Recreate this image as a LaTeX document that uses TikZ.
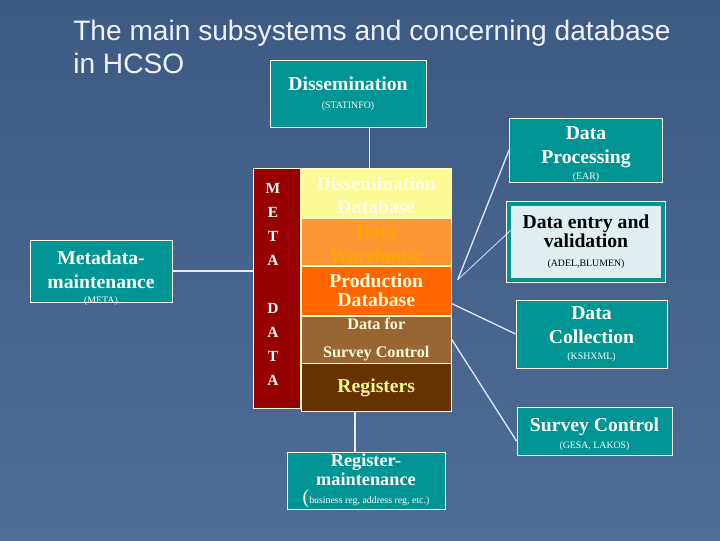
\documentclass[tikz,border=0pt]{standalone}
\usepackage{fontspec}
\setmainfont{Liberation Serif}
\newfontfamily\titlefont{Liberation Sans}
\usetikzlibrary{positioning, calc}
\definecolor{SlateTop}{RGB}{60, 90, 132}
\definecolor{SlateBottom}{RGB}{78, 108, 150}
\definecolor{SysTeal}{RGB}{0, 148, 148}
\definecolor{PaleCyan}{RGB}{224, 238, 242}
\definecolor{MetaRed}{RGB}{150, 0, 0}
\definecolor{PaleYellow}{RGB}{252, 250, 150}
\definecolor{WarmOrange}{RGB}{252, 150, 50}
\definecolor{HotOrange}{RGB}{255, 102, 0}
\definecolor{MidBrown}{RGB}{153, 102, 51}
\definecolor{DeepBrown}{RGB}{102, 51, 0}
\newcommand{\subtag}[1]{{\mdseries\fontsize{7}{9}\selectfont #1}}

\begin{document}
\begin{tikzpicture}[
        x=0.025cm, y=-0.025cm,
        sysbox/.style={draw=white, line width=0.6pt, fill=SysTeal, text=white, align=center, inner sep=1pt, font=\bfseries\fontsize{14}{17}\selectfont},
        boxtext/.style={text=white, align=center, inner sep=1pt, font=\bfseries\fontsize{14}{17}\selectfont},
        entrybox/.style={preaction={draw=white, line width=4.2pt}, draw=SysTeal, line width=2.8pt, fill=PaleCyan, text=black, align=center, inner sep=1pt, font=\bfseries\fontsize{14}{13}\selectfont},
        layer/.style={draw=white!80!yellow, line width=0.6pt, minimum width=3.75cm, align=center, inner sep=0pt, font=\bfseries\fontsize{14}{17}\selectfont},
        metaletter/.style={anchor=base, text=white, inner sep=0pt, font=\bfseries\fontsize{11}{13}\selectfont},
        link/.style={draw=white!92!blue, line width=0.9pt},
        thinlink/.style={draw=white!92!blue, line width=0.5pt},
        title/.style={anchor=base west, text=white!95!blue, inner sep=0pt, font=\titlefont\fontsize{20}{24}\selectfont}
    ]
        % background
        \shade[top color=SlateTop, bottom color=SlateBottom] (0,0) rectangle (720,540);
        \useasboundingbox (0,0) rectangle (720,540);

        \node[title] (title) at (73,40) {The main subsystems and concerning database};
        \node[title] (title2) at (73,73) {in HCSO};

        % central database stack
        \node[draw=white!80!yellow, line width=0.6pt, fill=MetaRed, minimum width=1.175cm, minimum height=6cm, anchor=north west, inner sep=0pt] (metacol) at (253,168) {};
        \foreach \ch [count=\i] in {M,E,T,A}
            \node[metaletter] (m\i) at (273,{169+24*\i}) {\ch};
        \foreach \ch [count=\i] in {D,A,T,A}
            \node[metaletter] (d\i) at (273,{289+24*\i}) {\ch};

        \node[layer, fill=PaleYellow, text=white!90!yellow, minimum height=1.225cm, anchor=north west] (dissdb) at (metacol.north east) {\rule{0pt}{13pt}Dissemination\\Database};
        \node[layer, fill=WarmOrange, text=orange!70!yellow, minimum height=1.175cm, below=0pt of dissdb] (dwh) {\rule{0pt}{13pt}Data\\Warehouse};
        \node[layer, fill=HotOrange, text=white!85!yellow, minimum height=1.225cm, below=0pt of dwh, font=\bfseries\fontsize{14}{13.5}\selectfont] (proddb) {Production\\Database};
        \node[layer, fill=MidBrown, text=white!85!yellow, minimum height=1.175cm, below=0pt of proddb, font=\bfseries\fontsize{11.5}{20}\selectfont] (survdata) {Data for\\Survey Control};
        \node[layer, fill=DeepBrown, text=yellow!45!white, minimum height=1.2cm, below=0pt of survdata] (regs) {Registers};

        % subsystems
        \node[sysbox, minimum width=3.9cm, minimum height=1.675cm] (diss) at (348,93.5) {Dissemination\\[-4pt]\subtag{(STATINFO)}};
        \node[sysbox, minimum width=3.825cm, minimum height=1.6cm,
            label={[boxtext, yshift=-3.2pt]center:{Data\\Processing\\[-5.5pt]\subtag{(EAR)}}}] (proc) at (586,150) {};
        \node[entrybox, minimum width=3.85cm, minimum height=1.9cm] (entry) at (586,242) {Data entry and\\validation\\[1pt]\subtag{(ADEL,BLUMEN)}};
        \node[sysbox, minimum width=3.775cm, minimum height=1.7cm] (coll) at (591.5,334) {Data\\Collection\\[-6pt]\subtag{(KSHXML)}};
        \node[sysbox, minimum width=3.55cm, minimum height=1.55cm,
            label={[boxtext, yshift=-5.2pt]center:{Metadata-\\maintenance\\[-6.5pt]\subtag{(META)}}}] (metamaint) at (101,271) {};
        \node[sysbox, minimum width=3.875cm, minimum height=1.2cm,
            label={[boxtext, yshift=-2.5pt]center:{Survey Control\\[-5pt]\subtag{(GESA, LAKOS)}}}] (survey) at (594.5,431) {};
        \node[sysbox, minimum width=3.95cm, minimum height=1.4cm, font=\bfseries\fontsize{13}{13}\selectfont] (regmaint) at (366,481) {Register-\\maintenance\\{\mdseries\fontsize{14}{14}\selectfont(}\subtag{business reg, address reg, etc.)}};

        % connectors
        \coordinate (hub) at ($(proddb.north east)+(6,14)$);
        \draw[link] ([xshift=-0.17cm]dissdb.north) -- ([xshift=-0.17cm]dissdb.north |- diss.south);
        \draw[link] (metamaint.east) -- (metamaint.east -| metacol.west);
        \draw[link] (hub) -- (proc.west);
        \draw[thinlink] (hub) -- ($(entry.west)+(4,-12)$);
        \draw[link] ($(proddb.south east)+(0,-12)$) -- (coll.west);
        \draw[link] (survdata.east) -- ($(survey.west)+(0,10)$);
        \draw[link] ([xshift=-0.275cm]regmaint.north) -- ([xshift=-0.275cm]regmaint.north |- regs.south);
    \end{tikzpicture}
\end{document}
